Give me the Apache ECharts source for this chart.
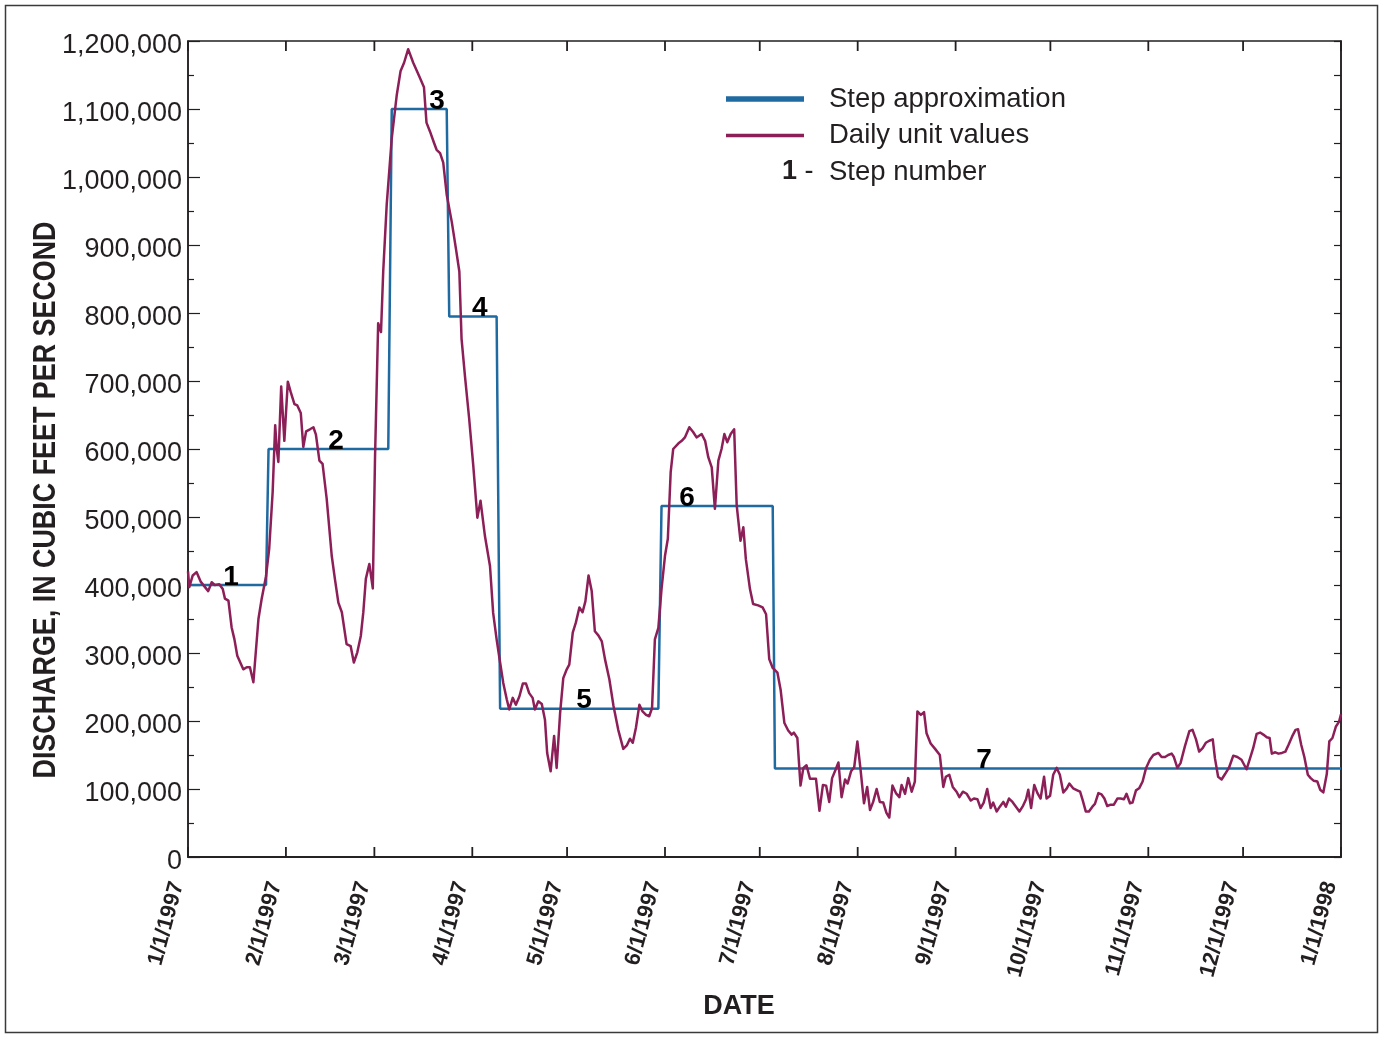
<!DOCTYPE html>
<html>
<head>
<meta charset="utf-8">
<script src="https://cdn.jsdelivr.net/npm/echarts@6.0.0/dist/echarts.min.js"></script>
<style>
  html, body { margin: 0; padding: 0; background: #fff; }
  #chart { width: 1379px; height: 1037px; }
</style>
</head>
<body>
<div id="chart"></div>
<script>
// ---------------- DATA ----------------
// Days elapsed since 1/1/1997 for each reading of the daily unit values
const dayOfYear = [
  0, 0.4, 1.5, 2.7, 4.0, 6.4, 7.5, 8.5, 9.9, 11.0, 11.7, 12.8, 13.8, 14.7, 15.6, 17.5, 18.6, 19.6, 20.7, 22.3,
  23.3, 24.7, 25.7, 26.8, 27.6, 28.1, 28.6, 29.5, 30.5, 31.6, 32.5, 33.7, 34.6, 35.7, 36.5, 37.4, 38.6, 39.7, 40.5, 41.6,
  42.6, 43.9, 45.5, 46.5, 47.6, 48.7, 50.2, 51.5, 52.5, 53.6, 54.7, 55.5, 56.3, 57.4, 58.5, 59.2, 60.2, 61.1, 61.8, 62.9,
  64.5, 66.1, 67.3, 68.4, 69.7, 71.3, 73.2, 74.7, 75.5, 76.6, 77.9, 78.7, 79.8, 80.8, 81.9, 83.5, 84.8, 85.9, 86.6, 87.7,
  89.0, 90.3, 91.6, 92.6, 94.0, 95.6, 96.6, 97.7, 98.8, 99.8, 100.9, 101.7, 102.8, 103.8, 104.9, 106.0, 107.0, 108.0, 109.1, 109.8,
  110.9, 112.0, 113.0, 113.7, 114.8, 115.9, 116.7, 117.8, 118.8, 119.9, 120.7, 121.8, 122.8, 123.9, 124.9, 125.8, 126.8, 127.8, 128.8, 129.9,
  131.0, 132.0, 133.4, 134.7, 136.2, 137.8, 138.9, 139.9, 140.8, 141.8, 142.9, 143.9, 145.0, 146.0, 146.9, 147.8, 148.9, 149.9, 151.0, 151.9,
  152.8, 153.6, 155.2, 156.3, 157.3, 158.7, 159.9, 161.0, 162.6, 163.7, 164.7, 165.8, 166.8, 167.9, 168.9, 169.8, 170.7, 171.8, 172.9, 173.7,
  174.9, 175.8, 176.6, 177.9, 178.9, 180.5, 181.9, 183.0, 184.0, 185.1, 186.6, 187.6, 188.8, 190.0, 191.1, 191.8, 192.9, 193.9, 194.8, 195.8,
  196.9, 198.8, 199.9, 201.0, 202.0, 203.0, 203.9, 204.8, 205.9, 206.9, 208.0, 208.8, 209.9, 210.9, 211.9, 212.9, 214.0, 215.0, 215.9, 216.9,
  218.0, 219.0, 220.1, 221.1, 222.0, 223.0, 224.1, 225.2, 225.9, 227.0, 228.0, 229.1, 230.1, 230.9, 232.0, 233.0, 233.8, 235.1, 236.5, 238.0,
  239.1, 239.9, 241.0, 242.1, 243.3, 244.2, 245.3, 246.5, 247.8, 248.8, 249.9, 250.9, 251.9, 253.0, 254.1, 254.9, 256.0, 257.0, 258.1, 258.9,
  259.9, 261.0, 262.1, 263.2, 264.2, 265.3, 266.0, 266.9, 267.9, 268.9, 269.9, 271.0, 271.8, 272.9, 273.9, 275.0, 276.0, 277.1, 278.2, 279.0,
  280.2, 281.5, 282.4, 283.2, 284.2, 285.2, 286.3, 287.1, 288.2, 289.2, 290.1, 291.0, 292.1, 293.1, 294.2, 295.2, 296.3, 297.1, 298.2, 299.0,
  300.1, 301.1, 302.2, 303.3, 304.5, 305.6, 307.2, 308.2, 309.3, 310.3, 311.4, 312.1, 313.2, 314.2, 315.6, 317.0, 318.0, 319.1, 320.1, 321.2,
  322.2, 323.3, 324.4, 325.1, 326.1, 327.2, 328.3, 329.6, 330.9, 332.2, 333.5, 335.1, 336.2, 337.2, 338.3, 339.4, 340.4, 341.5, 342.4, 343.1,
  344.2, 345.2, 346.3, 347.4, 348.4, 349.5, 350.6, 351.4, 352.4, 353.4, 354.5, 355.4, 356.4, 357.5, 358.4, 359.4, 360.5, 361.3, 362.3, 363.4,
  364.4, 365.0
];
// Daily unit values, cubic feet per second
const dailyCfs = [
  420000, 397000, 414000, 419000, 405000, 391000, 404000, 400000, 401000, 394000, 380000, 377000, 338000, 320000, 296000, 276000, 279000, 279000, 257000, 350000,
  379000, 413000, 453000, 537000, 635000, 600000, 581000, 692000, 612000, 699000, 684000, 666000, 664000, 653000, 603000, 626000, 629000, 632000, 621000, 583000,
  578000, 527000, 443000, 409000, 374000, 360000, 313000, 310000, 286000, 301000, 325000, 360000, 409000, 431000, 395000, 586000, 785000, 772000, 861000, 959000,
  1057000, 1121000, 1156000, 1168000, 1188000, 1168000, 1148000, 1132000, 1080000, 1067000, 1050000, 1040000, 1035000, 1021000, 974000, 934000, 895000, 861000, 762000, 706000,
  645000, 576000, 499000, 524000, 472000, 428000, 359000, 320000, 286000, 256000, 232000, 217000, 234000, 224000, 236000, 255000, 255000, 241000, 234000, 217000,
  229000, 225000, 202000, 153000, 126000, 178000, 131000, 212000, 263000, 276000, 283000, 330000, 345000, 367000, 360000, 376000, 414000, 391000, 332000, 326000,
  317000, 291000, 261000, 222000, 187000, 159000, 164000, 174000, 168000, 190000, 224000, 214000, 209000, 207000, 219000, 320000, 337000, 394000, 443000, 468000,
  566000, 600000, 608000, 612000, 617000, 632000, 625000, 617000, 622000, 612000, 588000, 573000, 512000, 583000, 600000, 622000, 610000, 622000, 629000, 517000,
  465000, 485000, 438000, 394000, 372000, 370000, 367000, 357000, 291000, 278000, 271000, 246000, 197000, 186000, 180000, 183000, 175000, 105000, 131000, 135000,
  115000, 115000, 68000, 106000, 105000, 81000, 116000, 126000, 139000, 88000, 114000, 108000, 126000, 132000, 170000, 129000, 79000, 103000, 69000, 81000,
  100000, 81000, 80000, 65000, 58000, 105000, 94000, 88000, 106000, 93000, 116000, 96000, 111000, 214000, 209000, 213000, 182000, 167000, 159000, 150000,
  103000, 118000, 121000, 103000, 96000, 88000, 96000, 93000, 83000, 86000, 85000, 72000, 80000, 100000, 72000, 80000, 67000, 74000, 81000, 74000,
  86000, 81000, 74000, 67000, 74000, 85000, 99000, 72000, 106000, 94000, 86000, 118000, 86000, 90000, 121000, 131000, 121000, 95000, 101000, 108000,
  101000, 98000, 96000, 84000, 67000, 67000, 74000, 78000, 94000, 92000, 86000, 75000, 77000, 77000, 86000, 86000, 85000, 93000, 79000, 80000,
  98000, 101000, 111000, 131000, 143000, 150000, 153000, 147000, 147000, 150000, 152000, 147000, 131000, 138000, 163000, 185000, 187000, 173000, 155000, 160000,
  168000, 171000, 173000, 145000, 118000, 114000, 122000, 132000, 149000, 147000, 143000, 129000, 145000, 160000, 181000, 183000, 180000, 176000, 175000, 152000,
  154000, 152000, 153000, 155000, 165000, 177000, 187000, 188000, 165000, 147000, 121000, 116000, 112000, 111000, 99000, 95000, 122000, 170000, 175000, 192000,
  199000, 210000
];
// Step approximation
const stepNumber   = [1, 2, 3, 4, 5, 6, 7];
const stepLevelCfs = [400000, 600000, 1100000, 795000, 218000, 516000, 130000];
const stepStartDay = [0, 25.5, 64.5, 82.7, 98.8, 149.9, 185.8];
const stepEndDay   = [24.7, 63.4, 81.9, 97.7, 148.9, 185.1, 365];
const stepLabelDay = [13.6, 46.9, 78.8, 92.4, 125.4, 158.0, 252.0];

// Axis ticks
const monthTickDay = [0, 31, 59, 90, 120, 151, 181, 212, 243, 273, 304, 334, 365];
const yTicks = { min: 0, max: 1200000, interval: 100000 };

// ---------------- BUILD ----------------
const base = new Date(1997, 0, 1).getTime();
const DAY = 86400000;
const t = d => base + d * DAY;
const endTime = new Date(1998, 0, 1).getTime();

const dailyData = dayOfYear.map((d, i) => [t(d), dailyCfs[i]]);
const stepData = [];
stepNumber.forEach((n, i) => {
  stepData.push([t(stepStartDay[i]), stepLevelCfs[i]]);
  stepData.push([t(stepEndDay[i]), stepLevelCfs[i]]);
});
const labelData = stepNumber.map((n, i) => [t(stepLabelDay[i]), stepLevelCfs[i], n]);
const monthTickData = monthTickDay.map(d => [t(d)]);

const INK = '#231f20';
const BLUE = '#1f6aa1';
const PURPLE = '#8c1f57';
const FONT = '"Liberation Sans", Arial, Helvetica, sans-serif';

const chart = echarts.init(document.getElementById('chart'), null, { renderer: 'canvas' });

const fmtDate = v => {
  const d = new Date(v);
  return (d.getMonth() + 1) + '/' + d.getDate() + '/' + d.getFullYear();
};

const timeAxisBase = {
  type: 'time',
  min: base,
  max: endTime,
  splitNumber: 12,
  minInterval: 28 * DAY,
  maxInterval: 31 * DAY,
  axisLine: { show: true, lineStyle: { color: INK, width: 1.5 } },
  axisTick: { show: false },
  splitLine: { show: false }
};

chart.setOption({
  animation: false,
  backgroundColor: '#ffffff',
  grid: { left: 188, right: 38, top: 41, bottom: 180, show: true, borderColor: INK, borderWidth: 1.5 },
  legend: {
    orient: 'vertical',
    left: 726,
    top: 85,
    padding: 0,
    itemWidth: 78,
    itemHeight: 14,
    itemGap: 8.5,
    selectedMode: false,
    textStyle: { fontSize: 27.5, fontFamily: FONT, color: INK, lineHeight: 28, padding: [0, 0, 0, 20] },
    data: [
      { name: 'Step approximation', icon: 'path://M0,0H100V7H0Z' },
      { name: 'Daily unit values', icon: 'path://M0,0H100V4.5H0Z' },
      { name: 'Step number', icon: 'rect', itemStyle: { opacity: 0 } }
    ]
  },
  xAxis: [
    Object.assign({}, timeAxisBase, {
      axisLabel: {
        show: true, rotate: 75, margin: 28, formatter: fmtDate,
        verticalAlign: 'bottom',
        fontSize: 22, fontWeight: 'bold', fontFamily: FONT, color: INK,
        showMinLabel: true, showMaxLabel: true, hideOverlap: false
      }
    }),
    Object.assign({}, timeAxisBase, { position: 'top', axisLabel: { show: false } })
  ],
  yAxis: [
    {
      type: 'value',
      min: yTicks.min, max: yTicks.max, interval: yTicks.interval,
      axisLine: { show: true, lineStyle: { color: INK, width: 1.5 } },
      axisTick: { show: true, inside: true, length: 12, lineStyle: { color: INK, width: 1.2 } },
      minorTick: { show: true, splitNumber: 2, length: 6, lineStyle: { color: INK, width: 1.2 } },
      axisLabel: {
        margin: 6, color: INK,
        formatter: v => '{v|' + v.toLocaleString('en-US') + '}',
        rich: { v: { fontSize: 27, fontFamily: FONT, color: INK, padding: [10, 0, 0, 0] } }
      },
      splitLine: { show: false }
    },
    {
      type: 'value',
      position: 'right',
      min: yTicks.min, max: yTicks.max, interval: yTicks.interval,
      axisLine: { show: true, lineStyle: { color: INK, width: 1.5 } },
      axisTick: { show: true, inside: true, length: 7, lineStyle: { color: INK, width: 1.2 } },
      minorTick: { show: true, splitNumber: 2, length: 7, lineStyle: { color: INK, width: 1.2 } },
      axisLabel: { show: false },
      splitLine: { show: false }
    }
  ],
  series: [
    {
      name: 'Step approximation',
      type: 'line',
      data: stepData,
      symbol: 'none',
      color: BLUE,
      lineStyle: { color: BLUE, width: 2.5 },
      z: 2
    },
    {
      name: 'Daily unit values',
      type: 'line',
      data: dailyData,
      symbol: 'none',
      color: PURPLE,
      lineStyle: { color: PURPLE, width: 2.5, join: 'round' },
      z: 3
    },
    {
      name: 'Step number',
      type: 'scatter',
      data: labelData,
      symbolSize: 0,
      itemStyle: { color: '#000' },
      emphasis: { disabled: true },
      label: {
        show: true,
        position: 'top',
        distance: -6,
        formatter: p => String(p.data[2]),
        fontSize: 28, fontWeight: 'bold', fontFamily: FONT, color: '#000', opacity: 1
      },
      z: 4
    },
    {
      // month tick marks on the bottom and top frame, pointing into the plot
      name: 'monthTicks',
      type: 'custom',
      data: monthTickData,
      silent: true,
      clip: false,
      z: 5,
      renderItem: (params, api) => {
        const v = api.value(0);
        const pb = api.coord([v, yTicks.min]);
        const pt = api.coord([v, yTicks.max]);
        const st = { stroke: INK, lineWidth: 1.8 };
        return {
          type: 'group',
          children: [
            { type: 'line', shape: { x1: pb[0], y1: pb[1], x2: pb[0], y2: pb[1] - 10 }, style: st },
            { type: 'line', shape: { x1: pt[0], y1: pt[1], x2: pt[0], y2: pt[1] + 10 }, style: st }
          ]
        };
      }
    }
  ],
  graphic: [
    {
      type: 'rect',
      shape: { x: 5.5, y: 5.5, width: 1372, height: 1027 },
      style: { fill: null, stroke: '#3a3a3a', lineWidth: 1.5 },
      silent: true
    },
    {
      type: 'text',
      left: 782,
      top: 158,
      style: {
        text: '{b|1} -',
        rich: { b: { fontWeight: 'bold', fontSize: 27, fontFamily: FONT, fill: INK } },
        fontSize: 27, fontFamily: FONT, fill: INK
      }
    },
    {
      // y-axis title, condensed bold
      type: 'text',
      x: 46,
      y: 500,
      rotation: Math.PI / 2,
      scaleX: 0.84,
      style: {
        text: 'DISCHARGE, IN CUBIC FEET PER SECOND',
        fontSize: 32, fontWeight: 'bold', fontFamily: FONT, fill: INK,
        align: 'center', verticalAlign: 'middle'
      }
    },
    {
      type: 'text',
      x: 739,
      y: 1007,
      style: {
        text: 'DATE',
        fontSize: 27, fontWeight: 'bold', fontFamily: FONT, fill: INK,
        align: 'center', verticalAlign: 'middle'
      }
    }
  ]
});
</script>
</body>
</html>
